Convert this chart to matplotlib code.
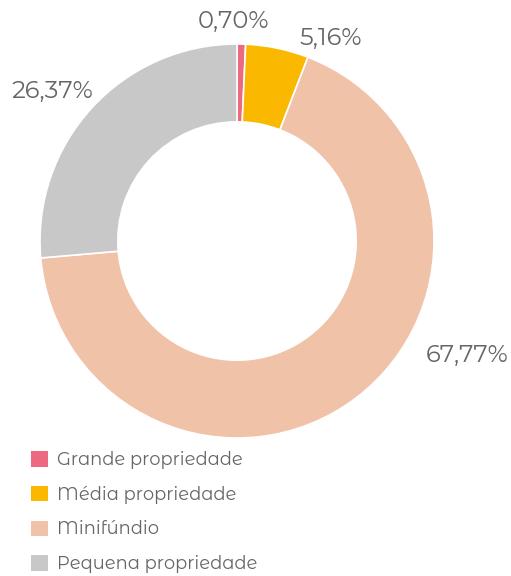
import matplotlib
matplotlib.use("Agg")
import matplotlib.pyplot as plt
from matplotlib.patches import Patch
import numpy as np

categories = ["Grande propriedade", "Média propriedade", "Minifúndio", "Pequena propriedade"]
values = [0.70, 5.16, 67.77, 26.37]
colors = ["#ec6a80", "#fbb800", "#f0c2a8", "#c8c8c8"]
value_labels = ["0,70%", "5,16%", "67,77%", "26,37%"]

plt.rcParams['font.family'] = ['Montserrat Alternates', 'Lato', 'DejaVu Sans']
plt.rcParams['font.weight'] = 400
text_color = "#666666"

W, H = 511, 576
fig = plt.figure(figsize=(W / 100, H / 100), dpi=100)
cx, cy, R = 237, 241, 197
ax = fig.add_axes([(cx - R) / W, (H - cy - R) / H, 2 * R / W, 2 * R / H])
wedges, _ = ax.pie(values, colors=colors, startangle=90, counterclock=False, radius=1,
                   wedgeprops=dict(width=0.395, edgecolor="white", linewidth=1.2))
ax.set_xlim(-1, 1)
ax.set_ylim(-1, 1)
ax.set_aspect("equal")
ax.axis("off")

# label placement (layout)
label_pos = [(-0.02, 1.112), (0.477, 1.03), (1.168, -0.579), (-0.939, 0.761)]
for lab, (x, y) in zip(value_labels, label_pos):
    ax.text(x, y, lab, ha="center", va="center", fontsize=17.5, color=text_color,
            clip_on=False)

handles = [Patch(facecolor=c, edgecolor="none") for c in colors]
fig.legend(handles, categories, loc="upper left", bbox_to_anchor=(24 / W, (H - 444) / H),
           frameon=False, prop=dict(size=12.9), labelcolor=text_color,
           handlelength=0.95, handleheight=0.95, handletextpad=0.5, labelspacing=0.93,
           borderaxespad=0)

fig.savefig("out.png", dpi=100)
